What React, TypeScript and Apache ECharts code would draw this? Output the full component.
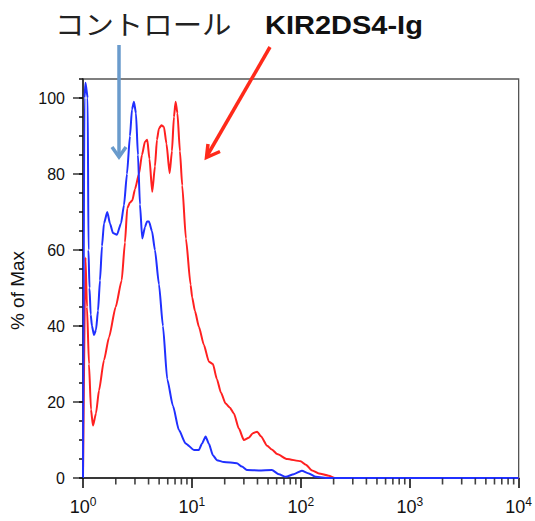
import React, { useEffect, useRef } from "react";
import * as echarts from "echarts";

// Control (blue) histogram: fluorescence values and % of max
const controlX = [1.0, 1.032, 1.054, 1.104, 1.123, 1.147, 1.177, 1.209, 1.262, 1.316, 1.373, 1.432, 1.494, 1.558, 1.671, 1.769, 1.885, 2.05, 2.232, 2.378, 2.533, 2.699, 2.816, 2.937, 3.064, 3.196, 3.334, 3.499, 3.706, 3.866, 4.032, 4.296, 4.577, 4.981, 5.42, 5.935, 6.694, 7.599, 8.753, 10.43, 11.59, 12.35, 13.36, 14.32, 15.58, 16.96, 19.66, 25.87, 28.76, 31.96, 41.18, 54.2, 62.84, 72.85, 86.27, 102.1, 118.4, 137.3, 180.6, 10000];
const controlY = [0, 100, 104, 100, 60, 50, 43, 40, 37.6, 39, 44, 52, 61, 67, 70, 67, 64.5, 64, 67, 71.8, 80, 90, 97, 99, 96, 85, 72, 63, 66, 67.5, 67.5, 65, 60, 51, 40, 26, 19, 12.6, 9.1, 7.4, 7.4, 9, 10.9, 9, 6, 4.7, 4.2, 3.9, 3, 2.1, 2, 2.1, 1, 0.3, 1, 1.9, 1.2, 0.3, 0, 0];

// KIR2DS4-Ig (red) histogram
const kirX = [1.0, 1.054, 1.088, 1.135, 1.184, 1.235, 1.316, 1.402, 1.558, 1.732, 1.995, 2.265, 2.428, 2.549, 2.699, 2.834, 3.0, 3.265, 3.478, 3.706, 3.891, 4.075, 4.323, 4.577, 4.775, 4.981, 5.252, 5.536, 5.836, 6.244, 6.554, 6.837, 7.087, 7.362, 7.762, 8.147, 8.81, 9.729, 10.06, 10.65, 11.59, 12.89, 14.32, 15.58, 16.96, 18.45, 20.38, 22.32, 24.28, 26.98, 30.0, 33.34, 36.28, 39.72, 42.96, 49.07, 54.2, 60.62, 74.87, 99.4, 111.2, 127.0, 146.3, 180.6, 205.1, 10000];
const kirY = [0, 58, 45, 30, 18, 13.8, 17, 23, 31, 37, 45, 52, 62, 71, 72.5, 73, 76, 80, 85, 88.5, 89, 84, 75.3, 82, 89, 92, 92.8, 92.4, 88, 80.2, 86, 95, 99, 96, 86, 77, 63, 50.8, 47.5, 44, 39.8, 35, 30.6, 30, 26, 22.5, 19.6, 18.5, 17, 13, 10, 10.6, 11.8, 12.2, 11, 8.5, 7.5, 6.3, 5, 4.4, 3.5, 2, 1.2, 0.6, 0, 0];

// Axis tick marks
const xMinorTicks = [
  2, 3, 4, 5, 6, 7, 8, 9,
  20, 30, 40, 50, 60, 70, 80, 90,
  200, 300, 400, 500, 600, 700, 800, 900,
  2000, 3000, 4000, 5000, 6000, 7000, 8000, 9000,
];
const yMajorTicks = [0, 20, 40, 60, 80, 100];

const controlLabel = "コントロール";
const kirLabel = "KIR2DS4-Ig";
const yName = "% of Max";

const FONT = "'Liberation Sans', Arial, Helvetica, sans-serif";
const TICK = "#111";

export default function App() {
  const ref = useRef<HTMLDivElement>(null);

  useEffect(() => {
    if (!ref.current) return;
    const chart = echarts.init(ref.current, undefined, { renderer: "svg" });

    const option: any = {
      animation: false,
      backgroundColor: "#ffffff",
      grid: {
        left: 83,
        right: 15,
        top: 79,
        bottom: 43,
        show: true,
        borderColor: "#555",
        borderWidth: 1.3,
        backgroundColor: "transparent",
      },
      xAxis: {
        type: "log",
        logBase: 10,
        min: 1,
        max: 10000,
        axisLine: { lineStyle: { color: "#222", width: 1.5 } },
        axisTick: { length: 10, lineStyle: { color: TICK, width: 1.6 } },
        splitLine: { show: false },
        axisLabel: {
          margin: 18,
          formatter: (v: number) => `{b|10}{s|${Math.round(Math.log10(v))}}`,
          rich: {
            b: { fontSize: 18, fontFamily: FONT, color: "#111" },
            s: { fontSize: 12, fontFamily: FONT, color: "#111", padding: [0, 0, 10, 0] },
          },
        },
      },
      yAxis: {
        type: "value",
        min: 0,
        max: 105,
        interval: 5,
        name: yName,
        nameLocation: "middle",
        nameRotate: 90,
        nameGap: 54,
        nameTextStyle: {
          fontSize: 19,
          fontFamily: FONT,
          color: "#111",
          padding: [0, 24, 0, 0],
        },
        axisLine: { show: true, lineStyle: { color: "#222", width: 1.5 } },
        axisTick: { show: true, length: 4, lineStyle: { color: TICK, width: 1.5 } },
        splitLine: { show: false },
        axisLabel: {
          margin: 18,
          fontSize: 16,
          fontFamily: FONT,
          color: "#111",
          formatter: (v: number) => (v % 20 === 0 ? String(v) : ""),
        },
      },
      series: [
        {
          type: "line",
          name: kirLabel,
          data: kirX.map((x, i) => [x, kirY[i]]),
          showSymbol: false,
          smooth: 0.2,
          smoothMonotone: "x",
          lineStyle: { color: "#ff2020", width: 2 },
          z: 3,
        },
        {
          type: "line",
          name: controlLabel,
          data: controlX.map((x, i) => [x, controlY[i]]),
          showSymbol: false,
          smooth: 0.2,
          smoothMonotone: "x",
          lineStyle: { color: "#2030ff", width: 2 },
          z: 4,
        },
        {
          // minor ticks of the log x axis, hanging below the axis line
          type: "scatter",
          silent: true,
          clip: false,
          data: xMinorTicks.map((v) => [v, 0]),
          symbol: "rect",
          symbolSize: [1.6, 6],
          symbolOffset: [0, 3.5],
          itemStyle: { color: TICK },
          z: 5,
        },
        {
          // longer major ticks of the y axis
          type: "scatter",
          silent: true,
          clip: false,
          data: yMajorTicks.map((v) => [1, v]),
          symbol: "rect",
          symbolSize: [10, 1.6],
          symbolOffset: [-5, 0],
          itemStyle: { color: TICK },
          z: 5,
        },
      ],
      graphic: [
        {
          type: "text",
          x: 55,
          y: 23,
          scaleX: 1.09,
          style: {
            text: controlLabel,
            font: "27px 'Noto Sans CJK JP', sans-serif",
            fill: "#222",
            textAlign: "left",
            textVerticalAlign: "middle",
          },
        },
        {
          type: "text",
          x: 265,
          y: 25,
          scaleX: 1.16,
          style: {
            text: kirLabel,
            font: "bold 25px 'Liberation Sans', Arial, sans-serif",
            fill: "#111",
            textAlign: "left",
            textVerticalAlign: "middle",
          },
        },
        {
          type: "polyline",
          shape: { points: [[119, 45], [119, 155]] },
          style: { stroke: "#6a9bcc", lineWidth: 3.5, fill: null },
        },
        {
          type: "polyline",
          shape: { points: [[112, 147], [119, 157], [126, 147]] },
          style: { stroke: "#6a9bcc", lineWidth: 3.5, fill: null },
        },
        {
          type: "polyline",
          shape: { points: [[270, 47], [207, 156]] },
          style: { stroke: "#ff2a1a", lineWidth: 3.5, fill: null },
        },
        {
          type: "polyline",
          shape: { points: [[208, 144], [206.5, 157.5], [220, 151.5]] },
          style: { stroke: "#ff2a1a", lineWidth: 3.5, fill: null },
        },
      ],
    };

    chart.setOption(option);
    return () => chart.dispose();
  }, []);

  return (
    <div
      ref={ref}
      style={{ position: "fixed", left: 0, top: 0, width: 535, height: 521, background: "#fff" }}
    />
  );
}
